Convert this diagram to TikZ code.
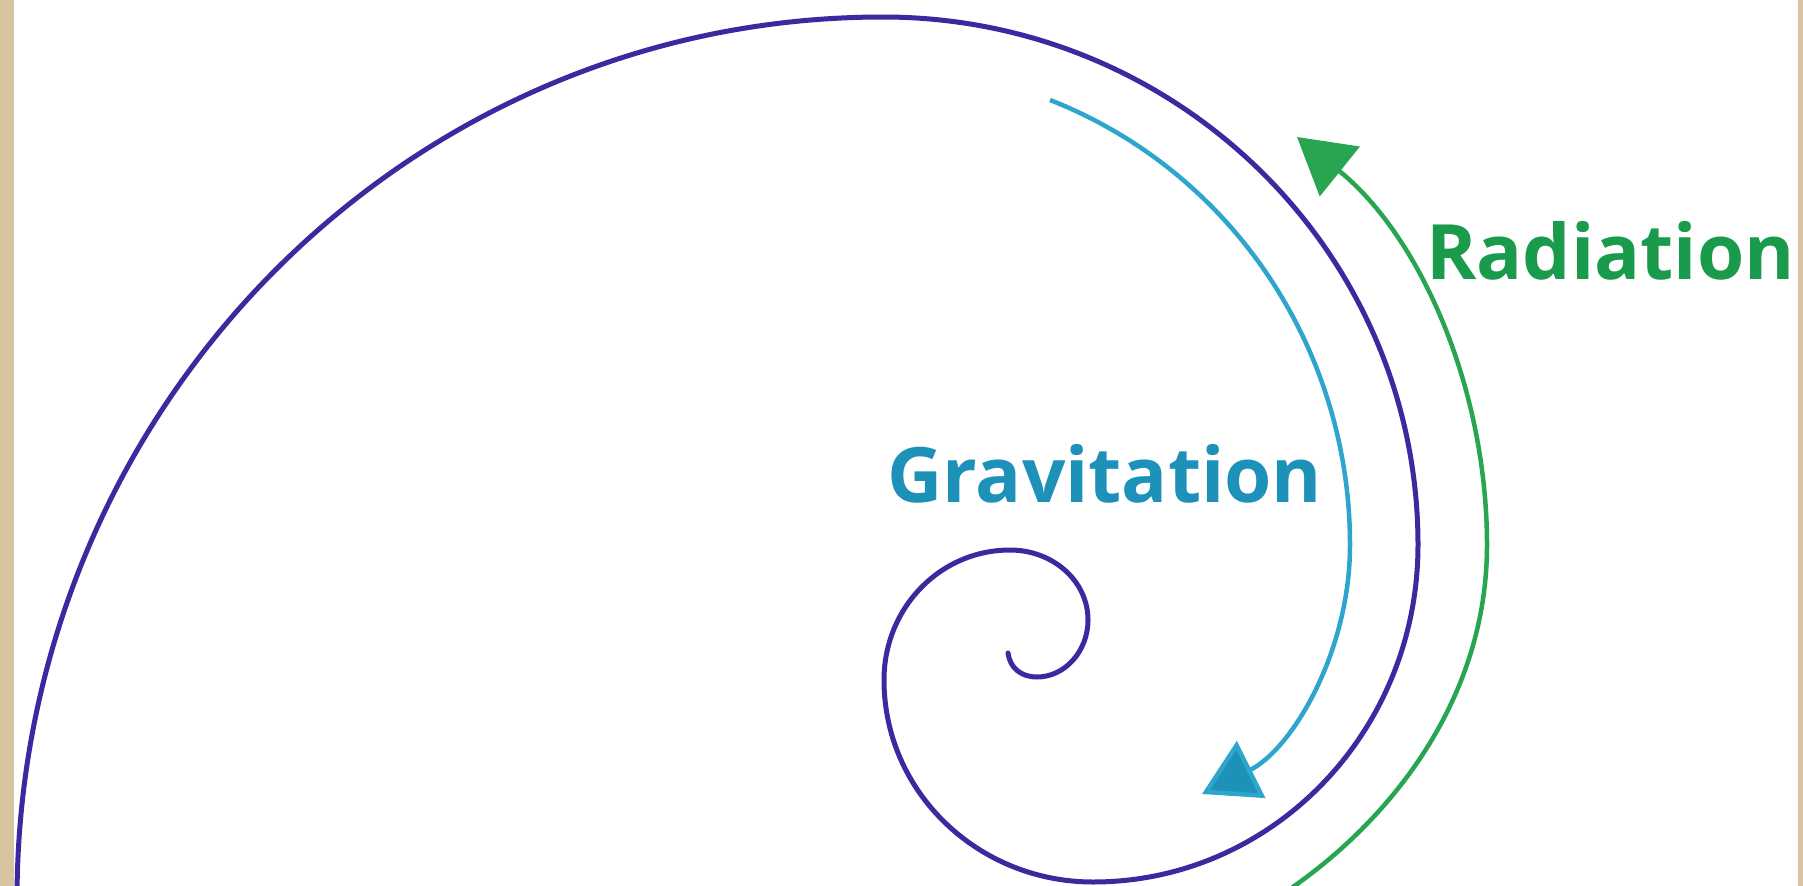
\documentclass[tikz,border=0pt]{standalone}
\usepackage{fontspec}
\setmainfont{Open Sans}[Ligatures=NoCommon]
\usetikzlibrary{arrows.meta}
\definecolor{paper}{RGB}{215,196,160}
\definecolor{spiralblue}{RGB}{58,42,160}
\definecolor{gravline}{RGB}{45,165,205}
\definecolor{gravtext}{RGB}{30,145,185}
\definecolor{radline}{RGB}{40,165,80}
\definecolor{radtext}{RGB}{25,155,75}

\begin{document}
\begin{tikzpicture}[x=0.02cm, y=-0.02cm,
  orbit/.style={draw=spiralblue, line width=0.1cm, line cap=round},
  flow/.style={line width=0.09cm},
  tag/.style={font=\fontsize{43.5}{46}\selectfont\bfseries, inner sep=0pt, anchor=base west}]
  \useasboundingbox (0,0) rectangle (1803,886);
  \fill[paper] (0,0) rectangle (1803,886);
  \fill[white] (14,0) rectangle (1798,886);
  \clip (14,0) rectangle (1798,886);

  % the infalling orbit, quarter by quarter
  \draw[orbit] (17,900) .. controls (17,410) and (405,17) .. (883,17)
     .. controls (1178,17) and (1418,253) .. (1418,545)
     .. controls (1418,731) and (1273,882) .. (1093,882)
     .. controls (978,882) and (884,792) .. (884,680)
     .. controls (884,608) and (940,550) .. (1010,550)
     .. controls (1053,550) and (1088,581) .. (1088,620)
     .. controls (1088,651) and (1065,677) .. (1037,677)
     .. controls (1021,677) and (1010,668) .. (1008,653);

  \coordinate (gravtail) at (1050,100);
  \coordinate (gravturn) at (1350,545);
  \coordinate (gravhead) at (1202,794);
  \coordinate (radtail) at (1290,889);
  \coordinate (radturn) at (1487,545);
  \coordinate (radhead) at (1297,137);

  \draw[flow, gravline, -{Triangle[length=1.1cm, width=1.26cm, fill=gravtext]}] (gravtail)
     .. controls (1231,171) and (1350,348) .. (gravturn)
     .. controls (1350,652) and (1292,749) .. (gravhead);
  \draw[flow, radline, -{Triangle[length=1.1cm, width=1.26cm]}] (radtail)
     .. controls (1390,820) and (1487,700) .. (radturn)
     .. controls (1487,388) and (1420,236) .. (radhead);

  \node[tag, text=gravtext] (grav) at (887,502) {Gravitation};
  \node[tag, text=radtext] (rad) at (1426,279) {Radiation};
\end{tikzpicture}
\end{document}
